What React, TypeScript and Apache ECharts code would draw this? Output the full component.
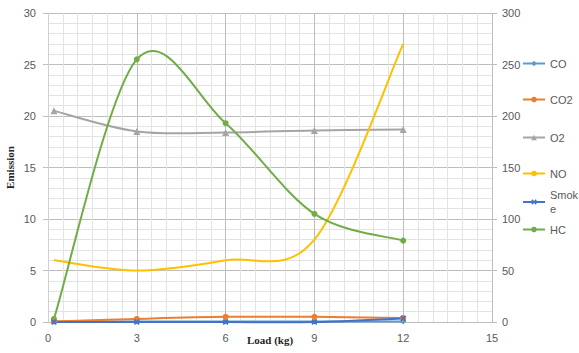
import React, { useEffect, useRef } from "react";
import * as echarts from "echarts";

const loads = [0.2, 3, 6, 9, 12];
const seriesNames = ["CO", "CO2", "O2", "NO", "Smoke", "HC"];
const coValues = [0.05, 0.05, 0.05, 0.05, 0.05];
const co2Values = [0.05, 0.3, 0.5, 0.5, 0.4];
const o2Values = [20.5, 18.5, 18.4, 18.6, 18.7];
const noValues = [60, 50, 60, 80, 270]; // right axis
const smokeValues = [0, 0, 0, 0, 0.35];
const hcValues = [3, 255, 193, 105, 79]; // right axis
const xTicks = [0, 3, 6, 9, 12, 15];
const leftTicks = [0, 5, 10, 15, 20, 25, 30];
const rightTicks = [0, 50, 100, 150, 200, 250, 300];

const LABEL_FONT = "Liberation Sans";
const TITLE_FONT = "Liberation Serif";

const pairs = (vals: number[]) => loads.map((x, i) => [x, vals[i]]);

export default function App() {
  const ref = useRef<HTMLDivElement>(null);
  useEffect(() => {
    if (!ref.current) return;
    const chart = echarts.init(ref.current, undefined, { renderer: "svg" });
    const colors = ["#5B9BD5", "#ED7D31", "#A5A5A5", "#FFC000", "#4472C4", "#70AD47"];
    const symbols = [
      "diamond",
      "circle",
      "triangle",
      "none",
      "path://M2,0 L5,3 L8,0 L10,2 L7,5 L10,8 L8,10 L5,7 L2,10 L0,8 L3,5 L0,2 Z",
      "circle",
    ];
    const data = [coValues, co2Values, o2Values, noValues, smokeValues, hcValues];
    const axisIdx = [0, 0, 0, 1, 0, 1];
    const zs = [3, 4, 2, 2, 5, 3];
    const legendTops = [58, 94, 132, 168, 181, 224];

    // Excel-style smoothed curve: cubic bezier per segment through the data points
    const curveSeries = seriesNames.map((n, k) => ({
      name: n,
      type: "custom",
      yAxisIndex: axisIdx[k],
      data: pairs(data[k]),
      encode: { x: 0, y: 1 },
      silent: true,
      z: zs[k],
      renderItem: (params: any, api: any) => {
        const i = params.dataIndex;
        const vals = data[k];
        const last = loads.length - 1;
        if (i >= last) return { type: "group", children: [] };
        const P = (j: number) => {
          const c = Math.max(0, Math.min(last, j));
          return api.coord([loads[c], vals[c]]);
        };
        const p0 = P(i - 1);
        const p1 = P(i);
        const p2 = P(i + 1);
        const p3 = P(i + 2);
        return {
          type: "bezierCurve",
          shape: {
            x1: p1[0],
            y1: p1[1],
            x2: p2[0],
            y2: p2[1],
            cpx1: p1[0] + (p2[0] - p0[0]) / 6,
            cpy1: p1[1] + (p2[1] - p0[1]) / 6,
            cpx2: p2[0] - (p3[0] - p1[0]) / 6,
            cpy2: p2[1] - (p3[1] - p1[1]) / 6,
          },
          style: { stroke: colors[k], lineWidth: 2, fill: "none" },
        };
      },
    }));

    const markerSeries = seriesNames.map((n, i) => ({
      name: n,
      type: "line",
      yAxisIndex: axisIdx[i],
      data: pairs(data[i]),
      smooth: false,
      symbol: symbols[i],
      symbolSize: i === 2 ? 7 : 6,
      showSymbol: symbols[i] !== "none",
      lineStyle: { color: colors[i], width: 2, opacity: 0 },
      itemStyle: { color: colors[i] },
      z: zs[i] + 1,
    }));

    chart.setOption({
      animation: false,
      backgroundColor: "#ffffff",
      grid: { left: 48, right: 87, top: 13, bottom: 31, containLabel: false, outerBoundsMode: "none" },
      xAxis: {
        type: "value",
        min: xTicks[0],
        max: xTicks[xTicks.length - 1],
        interval: 3,
        name: "Load (kg)",
        nameLocation: "middle",
        nameGap: 12,
        nameMoveOverlap: false,
        nameTextStyle: { fontFamily: TITLE_FONT, fontWeight: "bold", fontSize: 11, color: "#262626", verticalAlign: "top" },
        axisLine: { show: false },
        axisTick: { show: false },
        axisLabel: { margin: 10, fontFamily: LABEL_FONT, fontSize: 11, color: "#595959" },
        splitLine: { show: true, lineStyle: { color: "#bdbdbd", width: 1 } },
        minorTick: { show: false, splitNumber: 6 },
        minorSplitLine: { show: true, lineStyle: { color: "#e3e3e3", width: 1 } },
      },
      yAxis: [
        {
          type: "value",
          min: leftTicks[0],
          max: leftTicks[leftTicks.length - 1],
          interval: 5,
          name: "Emission",
          nameLocation: "middle",
          nameGap: 33,
          nameMoveOverlap: false,
          nameTextStyle: { fontFamily: TITLE_FONT, fontWeight: "bold", fontSize: 11, color: "#262626" },
          axisLine: { show: true, lineStyle: { color: "#d0d0d0" } },
          axisTick: { show: true, length: 5, lineStyle: { color: "#c0c0c0" } },
          axisLabel: { margin: 12, fontFamily: LABEL_FONT, fontSize: 11, color: "#595959" },
          splitLine: { show: true, lineStyle: { color: "#bdbdbd", width: 1 } },
          minorTick: { show: false, splitNumber: 5 },
          minorSplitLine: { show: true, lineStyle: { color: "#e3e3e3", width: 1 } },
        },
        {
          type: "value",
          min: rightTicks[0],
          max: rightTicks[rightTicks.length - 1],
          interval: 50,
          position: "right",
          axisLine: { show: false },
          axisTick: { show: true, length: 5, lineStyle: { color: "#bdbdbd" } },
          axisLabel: { margin: 10, fontFamily: LABEL_FONT, fontSize: 11, color: "#595959" },
          splitLine: { show: false },
        },
      ],
      legend: seriesNames.map((n, i) => ({
        data: [n],
        orient: "vertical",
        left: 522,
        top: legendTops[i],
        padding: 0,
        itemWidth: 22,
        itemHeight: 7,
        itemGap: 3,
        lineStyle: { opacity: 1, width: 2 },
        formatter: (name: string) => (name === "Smoke" ? "Smok\ne" : name),
        textStyle:
          n === "Smoke"
            ? { fontFamily: LABEL_FONT, fontSize: 11, color: "#595959", lineHeight: 14, padding: [14, 0, 0, 0] }
            : { fontFamily: LABEL_FONT, fontSize: 11, color: "#595959" },
      })),
      series: [...markerSeries, ...curveSeries],
    });
    return () => chart.dispose();
  }, []);
  return (
    <div
      ref={ref}
      style={{ position: "fixed", left: 0, top: 0, width: 579, height: 353, background: "#fff" }}
    />
  );
}
